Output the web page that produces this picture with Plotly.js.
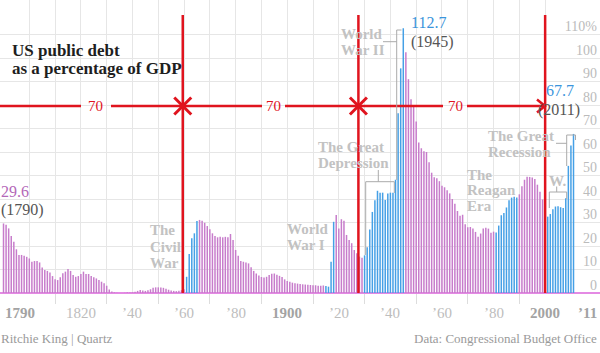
<!DOCTYPE html>
<html>
<head>
<meta charset="utf-8">
<script src="https://cdn.plot.ly/plotly-3.0.1.min.js"></script>
<style>html,body{margin:0;padding:0;background:#fff}#chart{width:600px;height:353px}</style>
</head>
<body>
<div id="chart"></div>
<script>
// ---- data ----
const startYear = 1790;
const debtPct = [
  29.6, 29.0, 27.5, 24.3, 21.8, 18.6, 16.2, 16.2, 15.9, 15.4,
  14.7, 13.3, 13.6, 13.6, 13.0, 10.8, 9.8, 9.4, 8.7, 7.2,
  5.8, 5.5, 6.7, 8.4, 9.1, 10.2, 9.4, 7.7, 6.9, 7.2,
  8.1, 9.1, 8.1, 8.1, 7.2, 6.7, 6.2, 5.5, 4.8, 4.1,
  3.1, 1.5, 0.6, 0.3, 0.1, 0.0, 0.0, 0.1, 0.3, 0.2,
  0.3, 0.5, 0.9, 1.3, 1.1, 0.9, 1.2, 1.6, 2.2, 2.4,
  2.4, 2.3, 2.2, 1.8, 1.4, 1.1, 0.9, 0.8, 1.0, 1.2,
  1.6, 6.9, 16.6, 23.3, 25.4, 30.6, 31.1, 30.8, 29.9, 28.5,
  27.1, 25.4, 24.3, 23.7, 23.9, 23.7, 23.9, 23.7, 25.1, 22.6,
  18.3, 15.9, 13.6, 13.3, 13.0, 12.6, 11.0, 9.4, 8.3, 7.4,
  6.8, 6.6, 6.9, 7.7, 8.2, 8.3, 7.8, 7.3, 6.8, 5.8,
  5.1, 4.8, 4.4, 4.1, 4.0, 3.8, 3.7, 3.6, 3.5, 3.4,
  3.3, 3.3, 3.1, 3.1, 3.2, 3.0, 2.7, 13.3, 30.3, 33.2,
  27.5, 31.4, 30.8, 24.7, 22.6, 21.2, 18.3, 16.9, 15.5, 15.0,
  16.0, 19.5, 27.0, 34.5, 39.5, 43.5, 42.7, 42.7, 39.6, 42.4,
  42.7, 42.7, 48.2, 76.5, 95.6, 112.7, 102.5, 91.0, 82.5, 80.0,
  73.0, 64.0, 61.6, 60.3, 60.0, 55.6, 51.2, 49.3, 48.8, 47.6,
  45.6, 45.0, 43.7, 42.4, 40.0, 38.0, 34.9, 32.9, 33.3, 29.3,
  28.0, 28.1, 27.4, 26.0, 23.9, 25.3, 27.5, 27.8, 27.4, 25.6,
  26.1, 25.8, 28.7, 33.1, 34.0, 36.4, 39.5, 40.6, 41.0, 40.6,
  42.0, 45.4, 48.2, 49.5, 49.4, 49.2, 48.5, 46.1, 43.1, 39.8,
  34.7, 32.5, 33.6, 35.6, 36.8, 36.9, 36.5, 36.2, 40.3, 54.1,
  62.8, 67.7
];
const years = debtPct.map((_, i) => startYear + i);
// periods in which debt was run up (blue)
const riseStart = [1861, 1915, 1930, 1981, 2001];
const riseEnd   = [1865, 1918, 1945, 1989, 2011];
const yTickVals = [0, 10, 20, 30, 40, 50, 60, 70, 80, 90, 100, 110];
const yTickText = ['0', '10', '20', '30', '40', '50', '60', '70', '80', '90', '100', '110%'];
const xLabelYears = [1790, 1820, 1840, 1860, 1880, 1900, 1920, 1940, 1960, 1980, 2000, 2011];
const xLabelText  = ['1790', '1820', '’40', '’60', '’80', '1900', '’20', '’40', '’60', '’80', '2000', '’11'];
const xLabelBold  = [true, false, false, false, false, true, false, false, false, false, true, true];
const cycleYears = [1859.5, 1927.6, 2000.0];
const cycleLabel = '70';

// ---- styling ----
const PURPLE = '#c77ccb', BLUE = '#45a0e6', RED = '#e0141e', GRID = '#e6e6e6';
const SERIF = 'Liberation Serif, Times New Roman, serif';
const X0 = 1788.64, X1 = 2021.27, Y1 = 124.7, PH = 293;
const px = p => X0 + p / 600 * (X1 - X0);
const py = p => (PH - p) / PH * Y1;
const pp = p => (PH - p) / PH;   // pixel row -> paper y

const colors = years.map(y => riseStart.some((s, k) => y >= s && y <= riseEnd[k]) ? BLUE : PURPLE);

const bars = {
  type: 'bar', x: years, y: debtPct,
  marker: {color: colors, line: {width: 0}},
  hoverinfo: 'skip'
};
const crosses = {
  type: 'scatter', mode: 'markers',
  x: [cycleYears[0], cycleYears[1]], y: [py(106), py(106)],
  marker: {symbol: 'x-thin', size: 17, line: {width: 3, color: RED}, color: RED},
  hoverinfo: 'skip', cliponaxis: false
};

const ann = [];
function txt(text, x, y, o) {
  ann.push(Object.assign({
    text: text, x: px(x), y: py(y), xref: 'x', yref: 'y', showarrow: false,
    xanchor: 'left', yanchor: 'middle', borderpad: 0,
    font: {family: SERIF, size: 15, color: '#bdbdbd'}
  }, o || {}));
}
const lab = (t, x, y) => txt('<b>' + t + '</b>', x, y, {font: {family: SERIF, size: 15, color: '#c2c2c2'}});

// title
txt('<b>US public debt</b>', 11, 50, {font: {family: SERIF, size: 17, color: '#1e1e1e'}});
txt('<b>as a percentage of GDP</b>', 11, 68, {font: {family: SERIF, size: 17, color: '#1e1e1e'}});
// value call-outs
txt(debtPct[0].toFixed(1), 0, 191, {font: {family: SERIF, size: 16, color: '#b468b8'}});
txt('(' + years[0] + ')', 0, 210, {font: {family: SERIF, size: 16, color: '#555'}});
const iMax = debtPct.indexOf(Math.max.apply(null, debtPct));
txt(debtPct[iMax].toFixed(1), 410, 22, {font: {family: SERIF, size: 16, color: '#3b95dc'}});
txt('(' + years[iMax] + ')', 410, 42, {font: {family: SERIF, size: 16, color: '#555'}});
const iLast = debtPct.length - 1;
txt(debtPct[iLast].toFixed(1), 545, 90, {font: {family: SERIF, size: 16, color: '#3b95dc'}});
txt('(' + years[iLast] + ')', 537, 110, {font: {family: SERIF, size: 16, color: '#555'}});
// event labels
lab('The', 149, 230); lab('Civil', 149, 246.5); lab('War', 149, 262.5);
lab('World', 286, 229); lab('War I', 286, 245);
lab('The Great', 317, 147); lab('Depression', 317, 163);
lab('World', 340, 34); lab('War II', 340, 49.5);
lab('The', 466, 174.5); lab('Reagan', 466, 190); lab('Era', 466, 205.5);
lab('The Great', 487, 136); lab('Recession', 487, 151.5);
lab('W.', 548, 181);
// 70-year labels
[95, 273.5, 455].forEach(c => txt(cycleLabel, c, 106, {xanchor: 'center', font: {family: SERIF, size: 15, color: RED}}));
// x tick labels (paper-referenced vertically, below the plot)
xLabelYears.forEach((yr, i) => {
  const first = i === 0, last = i === xLabelYears.length - 1;
  ann.push({
    text: xLabelBold[i] ? '<b>' + xLabelText[i] + '</b>' : xLabelText[i],
    x: last ? px(577) : yr, y: pp(313), xref: 'x', yref: 'paper', showarrow: false,
    xanchor: (first || last) ? 'left' : 'center', yanchor: 'middle', borderpad: 0,
    font: {family: SERIF, size: 15, color: xLabelBold[i] ? '#a3a3a3' : '#bdbdbd'}
  });
});
// footer
ann.push({text: 'Ritchie King | Quartz', xref: 'paper', yref: 'paper', x: 0, y: pp(338),
  xanchor: 'left', yanchor: 'middle', showarrow: false, borderpad: 0, font: {family: SERIF, size: 13, color: '#9a9a9a'}});
ann.push({text: 'Data: Congressional Budget Office', xref: 'paper', yref: 'paper', x: 598 / 600, y: pp(338),
  xanchor: 'right', yanchor: 'middle', showarrow: false, borderpad: 0, font: {family: SERIF, size: 13, color: '#9a9a9a'}});

// shapes
const shapes = [];
function seg(x0, y0, x1, y1, color, w) {
  shapes.push({type: 'line', xref: 'x', yref: 'y', x0: px(x0), y0: py(y0), x1: px(x1), y1: py(y1),
    line: {color: color, width: w}});
}
function path(pts, color, w) {
  shapes.push({type: 'path', xref: 'x', yref: 'y',
    path: pts.map((p, i) => (i ? 'L' : 'M') + px(p[0]) + ',' + py(p[1])).join(' '),
    line: {color: color, width: w}});
}
// red 70-year cycle lines
cycleYears.forEach(cy => shapes.push({type: 'line', xref: 'x', yref: 'y', x0: cy, x1: cy, y0: 0, y1: py(15),
  line: {color: RED, width: 2.5}}));
[[0, 81], [111, 262], [285, 443], [467, 544]].forEach(s => seg(s[0], 106, s[1], 106, RED, 2.5));
path([[537, 99.5], [545, 106], [537, 112.5]], RED, 2.5);
// gray brackets
const G = '#aaaaaa';
path([[365.7, 255], [365.7, 181.7], [394.3, 181.7], [394.3, 193]], G, 1);
seg(378.3, 170, 378.3, 181.7, G, 1);
path([[396.7, 180], [396.7, 30], [401.5, 30]], G, 1);
seg(383, 41.7, 396.7, 41.7, G, 1);
path([[549.3, 208], [549.3, 192], [566.7, 192], [566.7, 199]], G, 1);
seg(556.7, 186.5, 556.7, 192, G, 1);
path([[566.7, 166], [566.7, 135], [575.5, 135], [575.5, 140]], G, 1);
seg(556, 143.3, 566.7, 143.3, G, 1);

const oddDecades = [], evenDecades = [];
for (let d = 1800; d <= 2000; d += 10) ((d / 10) % 2 ? oddDecades : evenDecades).push(d);
oddDecades.push(2011.5);

const layout = {
  width: 600, height: 353,
  margin: {l: 0, r: 0, t: 0, b: 60},
  paper_bgcolor: '#fff', plot_bgcolor: '#fff',
  showlegend: false, bargap: 0.42,
  xaxis: {
    range: [X0, X1], tickmode: 'array', tickvals: oddDecades, showticklabels: false,
    ticks: 'outside', ticklen: 10, tickcolor: '#dddddd', tickwidth: 1,
    showgrid: true, gridcolor: GRID, gridwidth: 1, zeroline: false, showline: false,
    minor: {tickmode: 'array', tickvals: evenDecades, showgrid: true, gridcolor: GRID, ticks: ''},
    fixedrange: true
  },
  yaxis: {
    range: [0, Y1], side: 'right', tickmode: 'array', tickvals: yTickVals, ticktext: yTickText,
    ticklabelposition: 'inside', ticklabelshift: -8, ticks: '',
    tickfont: {family: SERIF, size: 14, color: '#bbbbbb'},
    showgrid: true, gridcolor: GRID, zeroline: true, zerolinecolor: '#e48ae4', zerolinewidth: 2,
    showline: false, fixedrange: true
  },
  annotations: ann,
  shapes: shapes
};
Plotly.newPlot('chart', [bars, crosses], layout, {displayModeBar: false, staticPlot: true});
</script>
</body>
</html>
